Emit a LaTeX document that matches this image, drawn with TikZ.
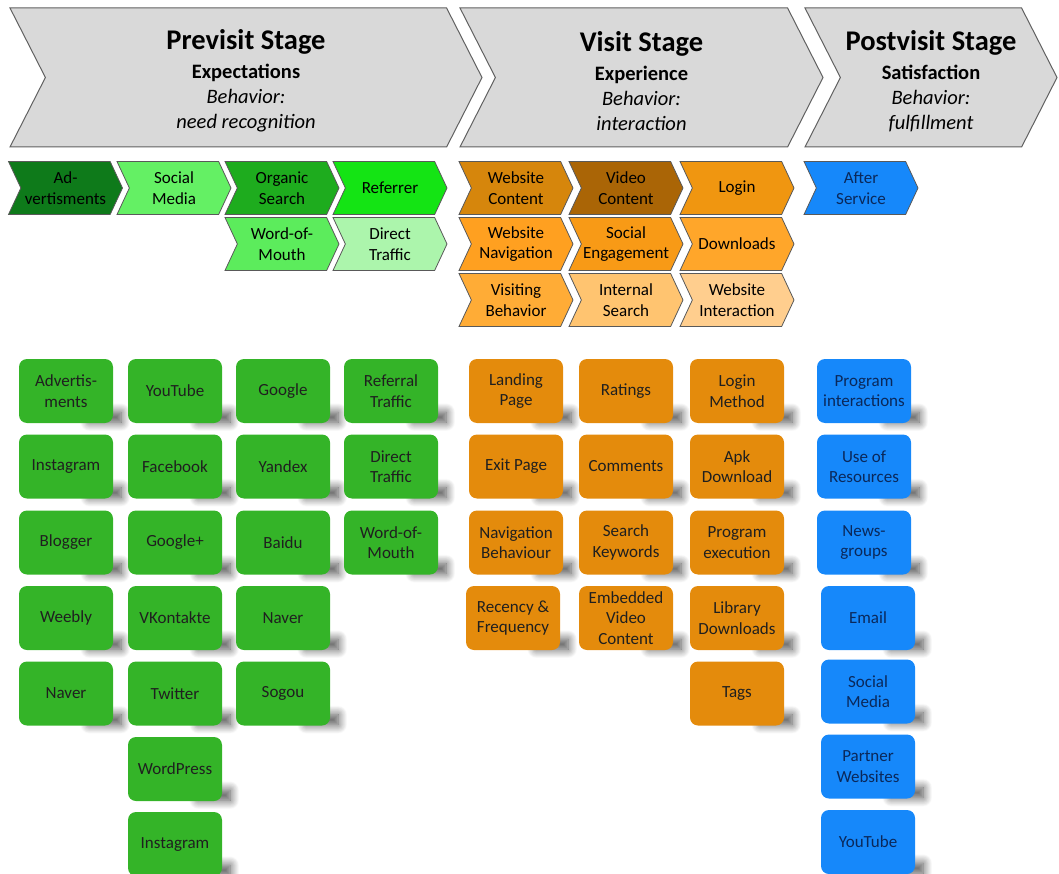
\documentclass[tikz,border=0pt]{standalone}
\usepackage{fontspec}
\setmainfont{Carlito}
\usetikzlibrary{shapes.symbols,shadows.blur}

\definecolor{stagefill}{RGB}{217,217,217}
\definecolor{tilegreen}{RGB}{52,180,40}
\definecolor{tileorange}{RGB}{228,139,12}
\definecolor{tileblue}{RGB}{22,136,250}
\definecolor{navytext}{RGB}{10,40,90}

\pgfdeclarelayer{background}
\pgfsetlayers{background,main}

\newcommand{\stagetitle}[1]{{\fontsize{28.5}{30}\selectfont\bfseries\rule{0pt}{27pt}#1}\\[4pt]}

\tikzstyle{stage}=[signal,signal from=west,signal to=east,signal pointer angle=126,draw=black!62,line width=1pt,fill=stagefill,inner sep=0pt,minimum height=139pt,align=center,font=\fontsize{20.5}{25}\selectfont]
\tikzstyle{chev}=[signal,signal from=west,signal to=east,signal pointer angle=130,draw=black!65,line width=.8pt,inner sep=0pt,minimum width=114pt,minimum height=53pt,align=center,font=\fontsize{17}{20.5}\selectfont]
\tikzstyle{tile}=[rectangle,rounded corners=8pt,inner sep=0pt,minimum width=94pt,minimum height=64pt,align=center,font=\fontsize{17}{20.5}\selectfont]
\tikzstyle{greentile}=[tile,fill=tilegreen,text=black!88]
\tikzstyle{orangetile}=[tile,fill=tileorange,text=black!88]
\tikzstyle{bluetile}=[tile,fill=tileblue,text=navytext]
\tikzstyle{tileshadow}=[blur shadow={shadow xshift=0pt,shadow yshift=0pt,shadow blur radius=9pt,shadow blur steps=14,shadow opacity=70}]

\begin{document}
\begin{tikzpicture}[x=1pt,y=-1pt]
\useasboundingbox (0,0) rectangle (1059,874);

\node[stage,minimum width=472pt] (pre) at (246,77.5) {\stagetitle{Previsit Stage}\textbf{Expectations}\\\textit{Behavior:}\\\textit{need recognition}};
\node[stage,minimum width=363pt] (visit) at (641.5,77.5) {\stagetitle{Visit Stage}\textbf{Experience}\\\textit{Behavior:}\\\textit{interaction}};
\node[stage,minimum width=252pt] (post) at (931,77.5) {\stagetitle{Postvisit Stage}\textbf{Satisfaction}\\\textit{Behavior:}\\\textit{fulfillment}};

\node[chev,fill={rgb,255:red,14;green,122;blue,26}] (ads) at (65.5,188) {Ad-\\vertisments};
\node[chev,fill={rgb,255:red,100;green,240;blue,100}] (social) at (174,188) {Social\\Media};
\node[chev,fill={rgb,255:red,30;green,172;blue,30}] (organic) at (282,188) {Organic\\Search};
\node[chev,fill={rgb,255:red,20;green,228;blue,20}] (referrer) at (390,188) {Referrer};
\node[chev,fill={rgb,255:red,92;green,236;blue,92}] (wom) at (282,244) {Word-of-\\Mouth};
\node[chev,fill={rgb,255:red,172;green,245;blue,172}] (direct) at (390,244) {Direct\\Traffic};

\node[chev,fill={rgb,255:red,214;green,134;blue,12}] (content) at (516,188) {Website\\Content};
\node[chev,fill={rgb,255:red,170;green,101;blue,6}] (video) at (626,188) {Video\\Content};
\node[chev,fill={rgb,255:red,240;green,150;blue,16}] (login) at (737,188) {Login};
\node[chev,fill={rgb,255:red,255;green,160;blue,32}] (navig) at (516,244) {Website\\Navigation};
\node[chev,fill={rgb,255:red,248;green,154;blue,22}] (engage) at (626,244) {Social\\Engagement};
\node[chev,fill={rgb,255:red,255;green,166;blue,42}] (downl) at (737,244) {Downloads};
\node[chev,fill={rgb,255:red,255;green,172;blue,54}] (visiting) at (516,300) {Visiting\\Behavior};
\node[chev,fill={rgb,255:red,255;green,196;blue,112}] (internal) at (626,300) {Internal\\Search};
\node[chev,fill={rgb,255:red,255;green,206;blue,142}] (interact) at (737,300) {Website\\Interaction};
\node[chev,fill=tileblue,text=navytext] (after) at (861,188) {After\\Service};

\node[greentile] (advert) at (66,391) {Advertis-\\ments};
\node[greentile] (instaA) at (66,466.5) {Instagram};
\node[greentile] (blogger) at (66,542.5) {Blogger};
\node[greentile] (weebly) at (66,618) {Weebly};
\node[greentile] (naverA) at (66,693.5) {Naver};

\node[greentile] (youtubeA) at (175,391) {YouTube};
\node[greentile] (facebook) at (175,466.5) {Facebook};
\node[greentile] (gplus) at (175,542.5) {Google+};
\node[greentile] (vk) at (175,618) {VKontakte};
\node[greentile] (twitter) at (175,693.5) {Twitter};
\node[greentile] (wordpress) at (175,769) {WordPress};
\node[greentile] (instaB) at (175,844) {Instagram};

\node[greentile] (google) at (283,391) {Google};
\node[greentile] (yandex) at (283,466.5) {Yandex};
\node[greentile] (baidu) at (283,542.5) {Baidu};
\node[greentile] (naverB) at (283,618) {Naver};
\node[greentile] (sogou) at (283,693.5) {Sogou};

\node[greentile] (referral) at (391,391) {Referral\\Traffic};
\node[greentile] (directtr) at (391,466.5) {Direct\\Traffic};
\node[greentile] (wordmouth) at (391,542.5) {Word-of-\\Mouth};

\node[orangetile] (landing) at (516,391) {Landing\\Page};
\node[orangetile] (exitpage) at (516,466.5) {Exit Page};
\node[orangetile] (navbeh) at (516,542.5) {Navigation\\Behaviour};
\node[orangetile] (recency) at (513,618) {Recency \&\\Frequency};

\node[orangetile] (ratings) at (626,391) {Ratings};
\node[orangetile] (comments) at (626,466.5) {Comments};
\node[orangetile] (keywords) at (626,542.5) {Search\\Keywords};
\node[orangetile] (embedded) at (626,618) {Embedded\\Video\\Content};

\node[orangetile] (loginm) at (737,391) {Login\\Method};
\node[orangetile] (apk) at (737,466.5) {Apk\\Download};
\node[orangetile] (progexec) at (737,542.5) {Program\\execution};
\node[orangetile] (libdl) at (737,618) {Library\\Downloads};
\node[orangetile] (tags) at (737,693.5) {Tags};

\node[bluetile] (proginter) at (864,391) {Program\\interactions};
\node[bluetile] (resources) at (864,466.5) {Use of\\Resources};
\node[bluetile] (newsgroups) at (864,542.5) {News-\\groups};
\node[bluetile] (email) at (868,618) {Email};
\node[bluetile] (socmedia) at (868,691.5) {Social\\Media};
\node[bluetile] (partner) at (868,766.5) {Partner\\Websites};
\node[bluetile] (youtubeB) at (868,842) {YouTube};

\begin{pgfonlayer}{background}
\foreach \t in {advert,instaA,blogger,weebly,naverA,youtubeA,facebook,gplus,vk,twitter,wordpress,instaB,google,yandex,baidu,naverB,sogou,referral,directtr,wordmouth,landing,exitpage,navbeh,recency,ratings,comments,keywords,embedded,loginm,apk,progexec,libdl,tags,proginter,resources,newsgroups,email,socmedia,partner,youtubeB}
  \path[tileshadow] ([xshift=-24pt,yshift=11pt]\t.south east) rectangle ([xshift=8pt,yshift=1pt]\t.south east);
\end{pgfonlayer}
\end{tikzpicture}
\end{document}
